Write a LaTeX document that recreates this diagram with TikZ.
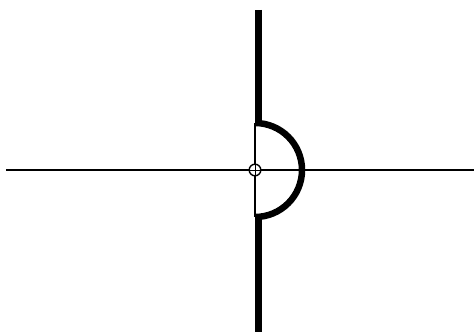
\documentclass[tikz,border=0pt]{standalone}
\begin{document}
\begin{tikzpicture}[x=1pt,y=-1pt,
  thin line/.style={line width=1.2pt,black},
  thick line/.style={line width=7pt,black}]
\useasboundingbox (0,0) rectangle (474,336);
\coordinate (O) at (255,170);
\coordinate (L) at (6,170);
\coordinate (R) at (474,170);
\coordinate (T) at (258.5,10);
\coordinate (B) at (258.5,332);
\coordinate (AT) at (258.5,123);
\coordinate (AB) at (258.5,217);
% horizontal axis
\draw[thin line] (L) -- (R);
% thin vertical through origin
\draw[thin line] (255,123) -- (255,217);
% thick segments
\draw[thick line] (T) -- (AT);
\draw[thick line] (AB) -- (B);
% semicircle
\draw[line width=6.5pt] (255,123) arc[start angle=-90,end angle=90,radius=47];
% small circle at origin
\draw[line width=1.4pt,fill=white] (O) circle[radius=5.8];
\draw[line width=0.9pt] (249.5,170) -- (260.5,170) (255,164.5) -- (255,175.5);
\end{tikzpicture}
\end{document}
